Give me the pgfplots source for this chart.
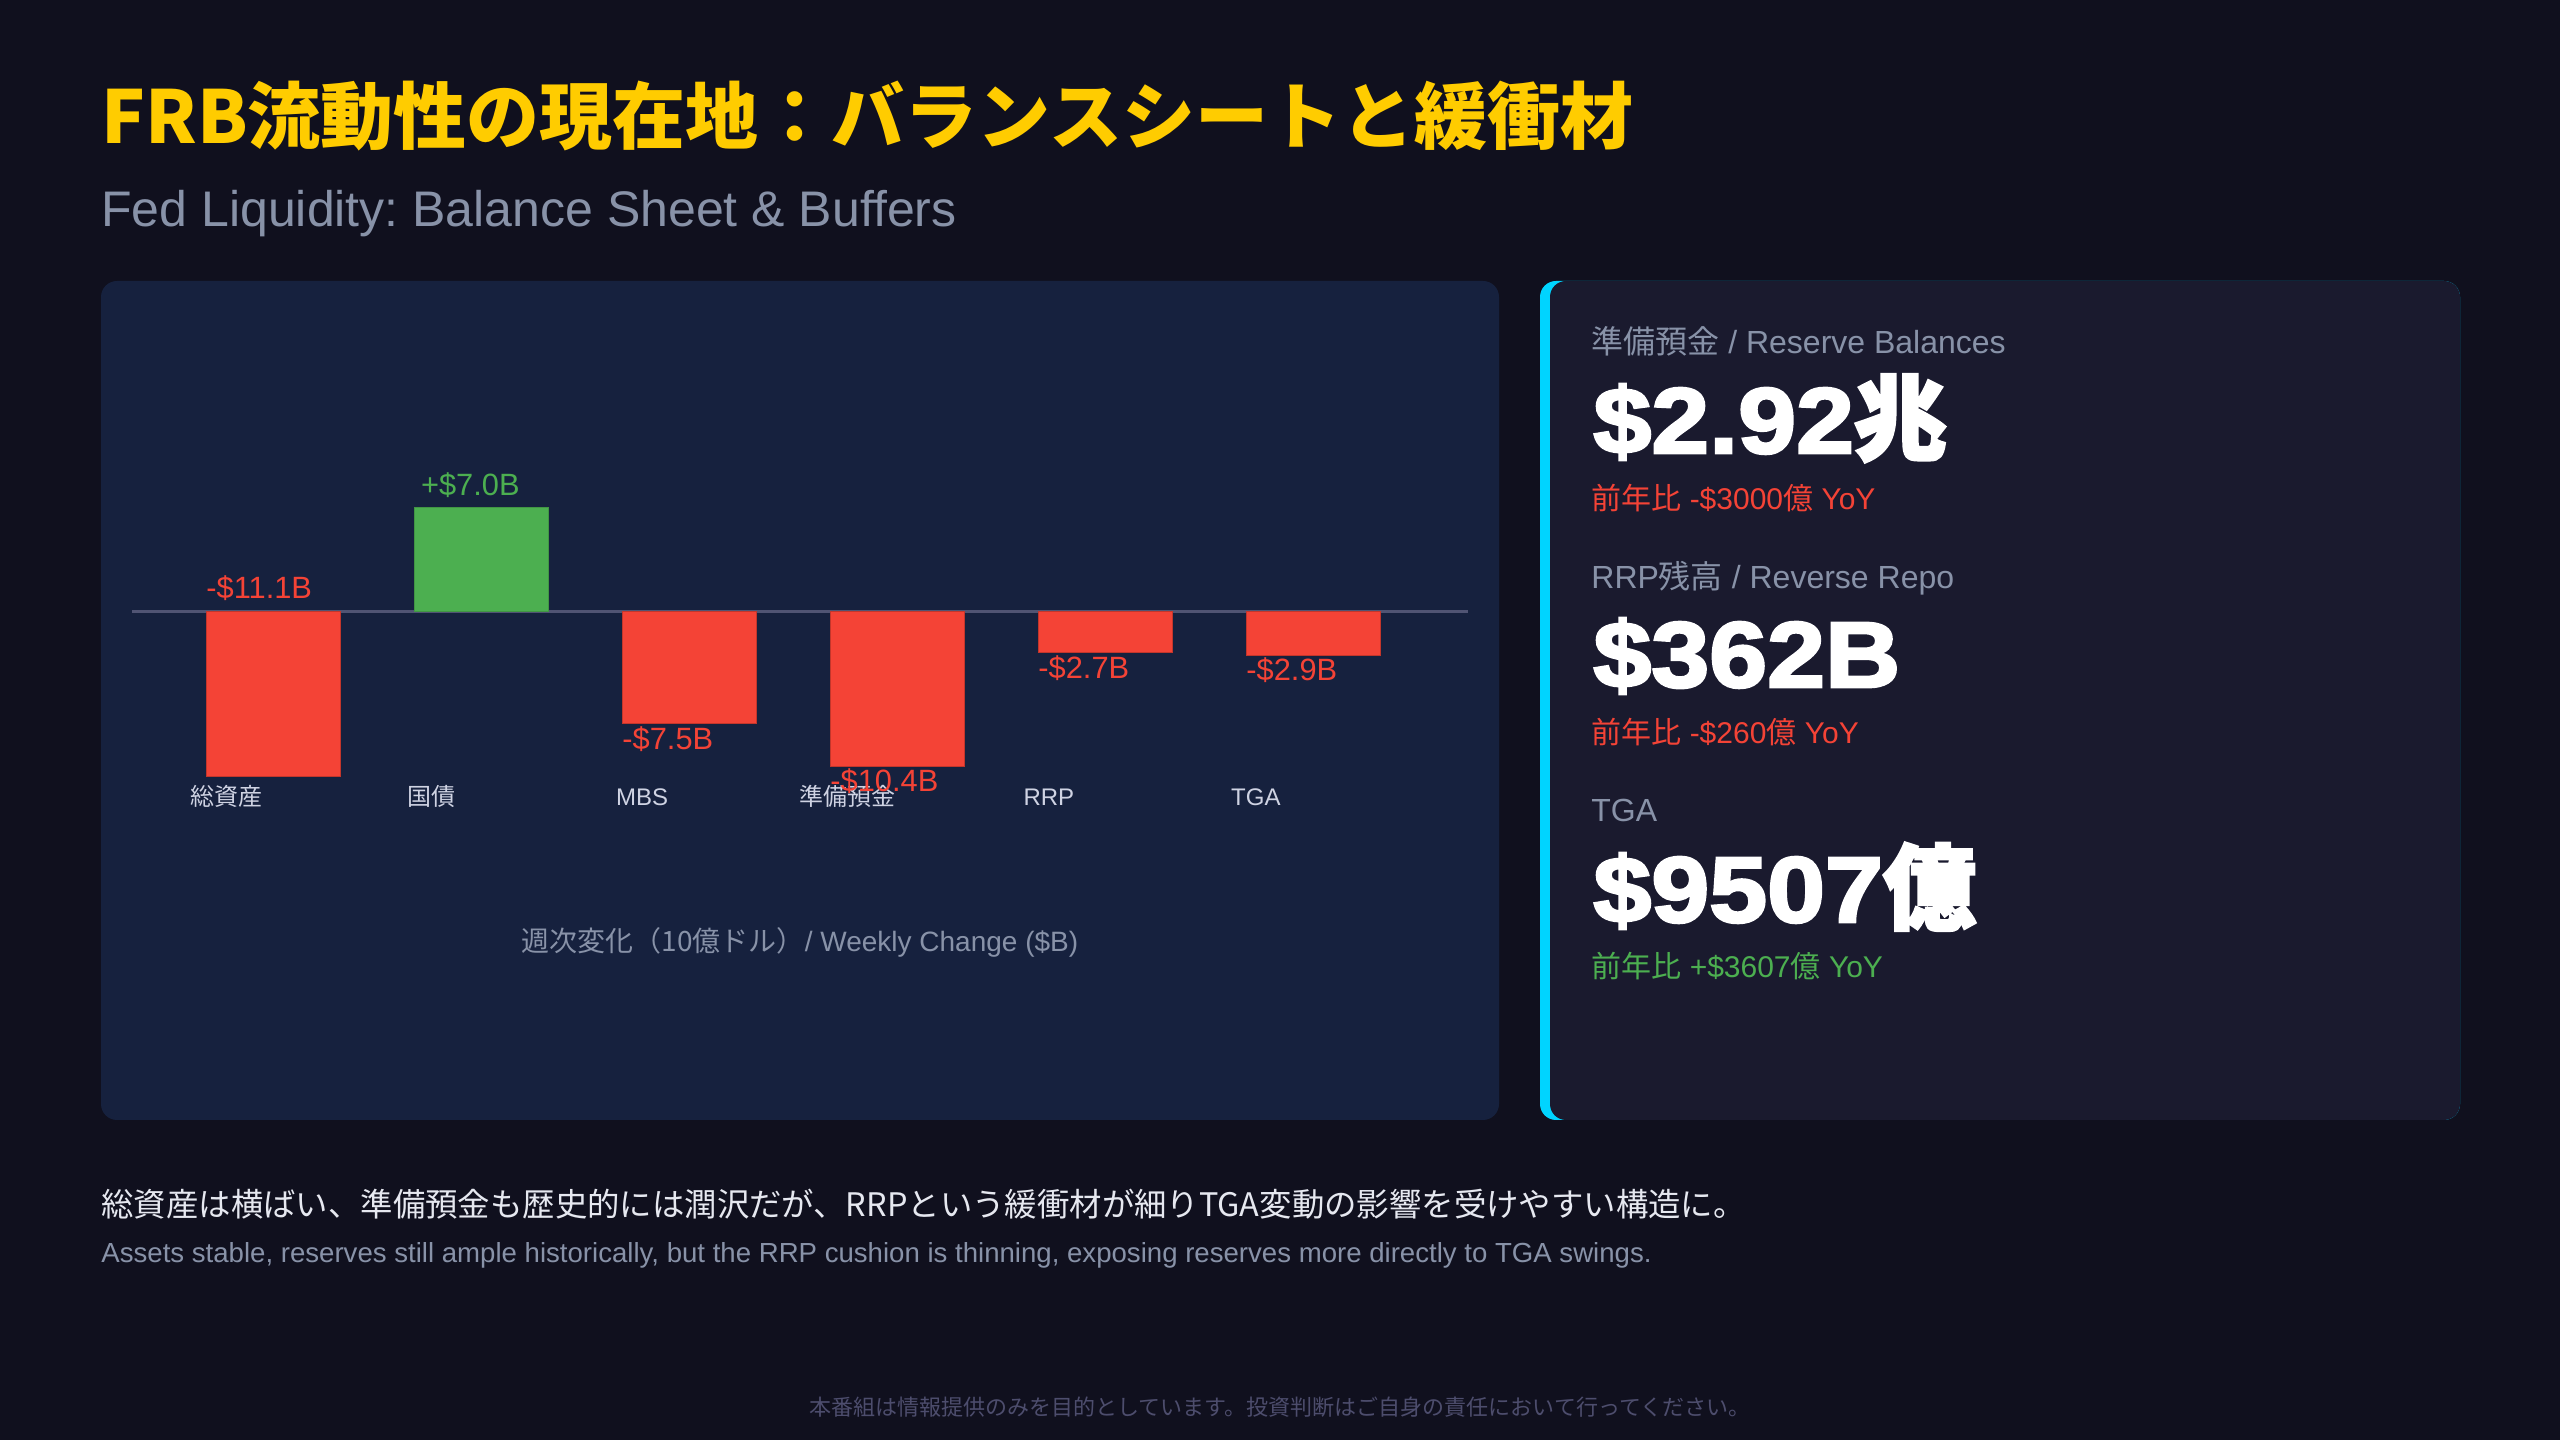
\documentclass[border=0pt]{standalone}
\usepackage{pgfplots}
\pgfplotsset{compat=1.18}
\usepackage{pgfplotstable}
\usepackage{fontspec}
\setmainfont{Liberation Sans}
\newfontfamily\cjk{Noto Sans CJK JP}
\newfontfamily\heavy{Liberation Sans}[FakeBold=3,FakeStretch=1.12]
\newfontfamily\heavyjp{Noto Sans CJK JP}[FakeBold=3]
\frenchspacing
\definecolor{bg}{HTML}{10101E}
\definecolor{panelA}{HTML}{16213E}
\definecolor{panelB}{HTML}{1A1A2E}
\definecolor{accent}{HTML}{00D4FF}
\definecolor{titley}{HTML}{FFCC00}
\definecolor{muted}{HTML}{8892A8}
\definecolor{neg}{HTML}{F44336}
\definecolor{pos}{HTML}{4CAF50}
\definecolor{tickc}{HTML}{CFD3E3}
\definecolor{zeroc}{HTML}{505473}
\definecolor{bodyt}{HTML}{E6E8F0}
\definecolor{disc}{HTML}{4D4D6D}
\newcommand\fs[1]{\fontsize{#1pt}{#1pt}\selectfont}

% weekly change, $B (bar centres at 0..5)
\pgfplotstableread{
x y
0 -11.1
2 -7.5
3 -10.4
4 -2.7
5 -2.9
}\negbars
\pgfplotstableread{
x y
1 7.0
}\posbars
% value labels: left edge of bar, baseline position, absolute value
\pgfplotstableread{
x y v
-0.322 0.94 11.1
1.678 -9.22 7.5
2.678 -12.11 10.4
3.678 -4.46 2.7
4.678 -4.64 2.9
}\neglabels
\pgfplotstableread{
x y v
0.71 7.81 7.0
}\poslabels

\begin{document}
\begin{tikzpicture}[x=0.5pt,y=0.5pt]
\useasboundingbox (0,0) rectangle (2560,1440);
\fill[bg] (0,0) rectangle (2560,1440);
\fill[panelA, rounded corners=8pt] (101,320) rectangle (1499,1159);
\fill[accent, rounded corners=8pt] (1540,320) rectangle (2460,1159);
\fill[panelB, rounded corners=8pt] (1550,320) rectangle (2460,1159);

\node[anchor=base west, inner sep=0pt, text=titley] at (101,1296)
  {\cjk\bfseries\fs{36.5}FRB流動性の現在地：バランスシートと緩衝材};
\node[anchor=base west, inner sep=0pt, text=muted] at (101,1213)
  {\fs{25}Fed Liquidity: Balance Sheet \& Buffers};

\begin{axis}[
  at={(66pt,317.4pt)}, anchor=south west,
  scale only axis, width=668pt, height=193.2pt,
  xmin=-0.678, xmax=5.745, ymin=-13, ymax=13,
  axis line style={draw=none}, tick style={draw=none},
  ytick=\empty,
  xtick={-0.225,0.76,1.775,2.76,3.73,4.725},
  xticklabels={{\cjk 総資産},{\cjk 国債},MBS,{\cjk 準備預金},RRP,TGA},
  xticklabel style={anchor=base, inner sep=0pt, yshift=-0.4pt, text=tickc, font=\fs{12}},
  extra y ticks={0}, extra y tick labels={},
  extra y tick style={grid=major, grid style={zeroc, line width=1.5pt}},
  xlabel={{\cjk 週次変化（10億ドル）}/ Weekly Change (\$B)},
  xlabel style={at={(axis description cs:0.5,0)}, anchor=base, inner sep=0pt, yshift=-73.4pt, text=muted, font=\fs{14}},
  clip=false,
]
\addplot[ybar, bar width=67pt, bar shift=0pt, fill=neg, draw=neg!80!black, line width=0.5pt] table[x=x,y=y] {\negbars};
\addplot[ybar, bar width=67pt, bar shift=0pt, fill=pos, draw=pos!85!black, line width=0.5pt] table[x=x,y=y] {\posbars};
\addplot[only marks, mark=*, mark size=0pt, mark options={opacity=0}, point meta=explicit,
  nodes near coords={-\$\pgfmathprintnumber[fixed,fixed zerofill,precision=1,assume math mode=true]{\pgfplotspointmeta}B},
  nodes near coords style={anchor=base west, inner sep=0pt, text=neg, font=\fs{15.4}, opacity=1}]
  table[x=x,y=y,meta=v] {\neglabels};
\addplot[only marks, mark=*, mark size=0pt, mark options={opacity=0}, point meta=explicit,
  nodes near coords={+\$\pgfmathprintnumber[fixed,fixed zerofill,precision=1,assume math mode=true]{\pgfplotspointmeta}B},
  nodes near coords style={anchor=base west, inner sep=0pt, text=pos, font=\fs{15.4}, opacity=1}]
  table[x=x,y=y,meta=v] {\poslabels};
\end{axis}

% right panel
\node[anchor=base west, inner sep=0pt, text=muted] at (1591,1086) {\fs{16}{\cjk 準備預金} / Reserve Balances};
\node[anchor=base west, inner sep=0pt, text=white] at (1593,987) {\heavy\bfseries\fs{46.5}\$2.92{\heavyjp\bfseries 兆}};
\node[anchor=base west, inner sep=0pt, text=neg] at (1591,930) {\fs{15}{\cjk 前年比} -\$3000{\cjk 億} YoY};

\node[anchor=base west, inner sep=0pt, text=muted] at (1591,851) {\fs{16}RRP{\cjk 残高} / Reverse Repo};
\node[anchor=base west, inner sep=0pt, text=white] at (1593,753) {\heavy\bfseries\fs{46.5}\$362B};
\node[anchor=base west, inner sep=0pt, text=neg] at (1591,696) {\fs{15}{\cjk 前年比} -\$260{\cjk 億} YoY};

\node[anchor=base west, inner sep=0pt, text=muted] at (1591,618) {\fs{16}TGA};
\node[anchor=base west, inner sep=0pt, text=white] at (1593,518) {\heavy\bfseries\fs{46.5}\$9507{\heavyjp\bfseries 億}};
\node[anchor=base west, inner sep=0pt, text=pos] at (1591,462) {\fs{15}{\cjk 前年比} +\$3607{\cjk 億} YoY};

% footer text
\node[anchor=base west, inner sep=0pt, text=bodyt] at (101,223)
  {\cjk\fs{16.2}総資産は横ばい、準備預金も歴史的には潤沢だが、RRPという緩衝材が細りTGA変動の影響を受けやすい構造に。};
\node[anchor=base west, inner sep=0pt, text=muted] at (101,177)
  {\fs{13.8}Assets stable, reserves still ample historically, but the RRP cushion is thinning, exposing reserves more directly to TGA swings.};
\node[anchor=base, inner sep=0pt, text=disc] at (1280,24)
  {\cjk\fs{11}本番組は情報提供のみを目的としています。投資判断はご自身の責任において行ってください。};
\end{tikzpicture}
\end{document}
